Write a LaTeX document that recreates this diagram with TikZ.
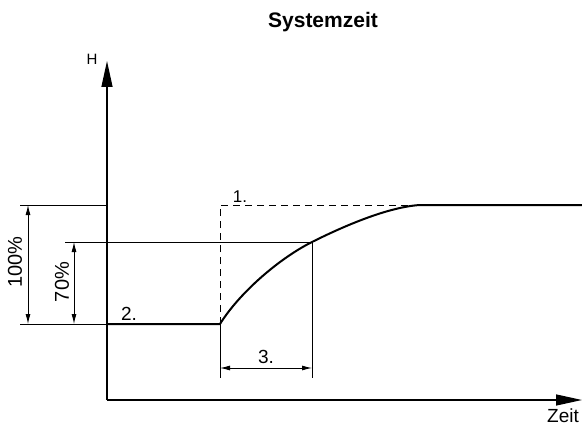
\documentclass[tikz,border=0pt]{standalone}
\usepackage{fontspec}
\setmainfont{Liberation Sans}
\usetikzlibrary{arrows.meta}

\begin{document}
\begin{tikzpicture}[x=1pt, y=-1pt, font=\fontsize{19}{22}\selectfont,
    axis/.style={line width=1.3pt, -{Triangle[length=26pt, width=11pt]}},
    guide/.style={line width=0.9pt},
    dim/.style={line width=0.9pt, {Latex[length=10pt, width=5pt]}-{Latex[length=10pt, width=5pt]}},
    graph/.style={line width=2pt},
    txt/.style={inner sep=0pt}]
    \useasboundingbox (0, 0) rectangle (582, 428);

    \coordinate (origin) at (107, 400);
    \coordinate (ytip) at (107, 61);
    \coordinate (xtip) at (582, 400);
    \coordinate (low) at (107, 324);
    \coordinate (high) at (107, 205);
    \coordinate (start) at (220, 324);
    \coordinate (mid) at (312, 242);
    \coordinate (top) at (420, 205);
    \coordinate (end) at (582, 205);
    \coordinate (jump) at (220, 205);
    \coordinate (ext100top) at (20, 205);
    \coordinate (ext100bot) at (20, 324);
    \coordinate (ext70) at (65, 242);
    \coordinate (dim100a) at (28, 205);
    \coordinate (dim100b) at (28, 324);
    \coordinate (dim70a) at (74, 242);
    \coordinate (dim70b) at (74, 324);
    \coordinate (foot3a) at (220, 378);
    \coordinate (foot3b) at (312, 378);
    \coordinate (dim3a) at (220, 368);
    \coordinate (dim3b) at (312, 368);

    \node[txt, font=\fontsize{21}{24}\selectfont\bfseries] (title) at (323, 22) {Systemzeit};
    \node[txt, font=\fontsize{15}{18}\selectfont] (hlabel) at (92, 59) {H};
    \node[txt, anchor=south west] (tlabel) at (547, 423) {Zeit};
    \node[txt, rotate=90, font=\fontsize{20}{22}\selectfont] (p100) at (15, 262) {100\%};
    \node[txt, rotate=90, font=\fontsize{20}{22}\selectfont] (p70) at (62, 282) {70\%};
    \node[txt, font=\fontsize{17}{20}\selectfont] (one) at (240, 197) {1.};
    \node[txt] (two) at (129, 314) {2.};
    \node[txt] (three) at (266, 357) {3.};

    \draw[axis] (origin) -- (ytip);
    \draw[axis] (origin) -- (xtip);

    \draw[guide] (ext100top) -- (high);
    \draw[guide] (ext100bot) -- (low);
    \draw[guide] (ext70) -- (mid);
    \draw[guide] (start) -- (foot3a);
    \draw[guide] (mid) -- (foot3b);
    \draw[guide, dashed, dash pattern=on 7pt off 5pt] (start) -- (jump) -- (top);

    \draw[dim] (dim100a) -- (dim100b);
    \draw[dim] (dim70a) -- (dim70b);
    \draw[dim] (dim3a) -- (dim3b);

    \draw[graph] (low) -- (start)
        .. controls (240, 292) and (280, 258) .. (mid)
        .. controls (344, 226) and (388, 207) .. (top) -- (end);
\end{tikzpicture}
\end{document}
